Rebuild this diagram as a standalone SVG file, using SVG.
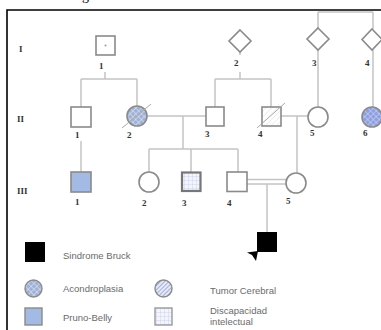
<svg xmlns="http://www.w3.org/2000/svg" width="381" height="330" viewBox="0 0 381 330">
<style>
.ln{stroke:#c4c4c4;stroke-width:1.5;fill:none}
.nd{stroke:#8a8a8a;stroke-width:1.6;fill:#fff}
.lb{font-family:"Liberation Serif",serif;font-weight:bold;font-size:9px;fill:#333}
.gen{font-family:"Liberation Serif",serif;font-weight:bold;font-size:9px;fill:#333}
.lg{font-family:"Liberation Sans",Arial,sans-serif;font-size:9.5px;fill:#6a6a6a}
</style>
<defs>
<pattern id="xh" width="4" height="4" patternUnits="userSpaceOnUse" patternTransform="rotate(45)">
<rect width="4" height="4" fill="#9fb0d6"/>
<path d="M0 0H4M0 0V4" stroke="#e8ecf6" stroke-width="1"/>
</pattern>
<pattern id="xh2" width="4" height="4" patternUnits="userSpaceOnUse" patternTransform="rotate(45)">
<rect width="4" height="4" fill="#8e9fe0"/>
<path d="M0 0H4M0 0V4" stroke="#d6dcf6" stroke-width="1"/>
</pattern>
<pattern id="st" width="3" height="3" patternUnits="userSpaceOnUse" patternTransform="rotate(45)">
<rect width="3" height="3" fill="#e6e9f6"/>
<path d="M0 0V3" stroke="#8d9ad0" stroke-width="1.5"/>
</pattern>
<pattern id="gr" width="4" height="4" patternUnits="userSpaceOnUse">
<rect width="4" height="4" fill="#f3f5fb"/>
<path d="M0 0H4M0 0V4" stroke="#c3cbe8" stroke-width="0.8"/>
</pattern>
<pattern id="hl" width="4" height="4" patternUnits="userSpaceOnUse" patternTransform="rotate(-45)">
<rect width="4" height="4" fill="#fff"/>
<path d="M0 0H4" stroke="#d8d8d8" stroke-width="0.8"/>
</pattern>
</defs>

<text x="82" y="0" font-family="Liberation Serif,serif" font-size="14" fill="#000">g</text>
<path d="M7 330V10H381" stroke="#000" stroke-width="1.6" fill="none"/>

<g id="generations">
<text class="gen" x="19" y="52">I</text>
<text class="gen" x="17" y="122">II</text>
<text class="gen" x="17" y="194">III</text>
</g>

<g id="connectors">
<path class="ln" d="M105 72V79M81 79H137M81 79V107M137 79V106"/>
<path class="ln" d="M240 52V55M240 72V79M215 79H271M215 79V107M271 79V107"/>
<path class="ln" d="M318 12H373M318 12V28M373 12V29M318 50V107M373 50V107"/>
<path class="ln" d="M147 116H206M183 116V149M149 149H238M149 149V172M191 149V172M238 149V172"/>
<path class="ln" d="M281 116H308M297 116V173"/>
<path class="ln" d="M81 141V172"/>
<path class="ln" d="M247 179.5H286M247 184H286M267 184V232"/>
</g>

<g id="I-1"><rect class="nd" x="96" y="36" width="19" height="19"/><circle cx="105.5" cy="45.5" r="1" fill="#999"/><text class="lb" x="99" y="69">1</text></g>
<g id="I-2"><path class="nd" d="M240 30L251 41L240 52L229 41Z"/><text class="lb" x="234" y="66">2</text></g>
<g id="I-3"><path class="nd" d="M318 28L329 39L318 50L307 39Z"/><text class="lb" x="312" y="66">3</text></g>
<g id="I-4"><path class="nd" d="M372 29L382 39.5L372 50L362 39.5Z"/><text class="lb" x="365" y="66">4</text></g>

<g id="II-1"><rect class="nd" x="71" y="107" width="20" height="20"/><text class="lb" x="75" y="138">1</text></g>
<g id="II-2"><circle class="nd" cx="137" cy="116" r="10" style="fill:url(#xh)"/><path d="M122 128L151 104" stroke="#aaa" stroke-width="1"/><text class="lb" x="127" y="138">2</text></g>
<g id="II-3"><rect class="nd" x="206" y="107" width="18" height="19"/><text class="lb" x="205" y="137">3</text></g>
<g id="II-4"><rect class="nd" x="262" y="107" width="19" height="19" style="fill:url(#hl)"/><path d="M257 128L285 103" stroke="#aaa" stroke-width="1"/><text class="lb" x="258" y="137">4</text></g>
<g id="II-5"><circle class="nd" cx="318" cy="117" r="10"/><text class="lb" x="310" y="136">5</text></g>
<g id="II-6"><circle class="nd" cx="372" cy="117" r="10" style="fill:url(#xh2)"/><text class="lb" x="363" y="136">6</text></g>

<g id="III-1"><rect class="nd" x="71" y="172" width="20" height="20" style="fill:#a3bbe4"/><text class="lb" x="75" y="205">1</text></g>
<g id="III-2"><circle class="nd" cx="149" cy="182" r="10"/><text class="lb" x="142" y="206">2</text></g>
<g id="III-3"><rect x="182" y="172.5" width="18.5" height="18.5" style="fill:url(#gr)" stroke="#777" stroke-width="2.2"/><text class="lb" x="182" y="206">3</text></g>
<g id="III-4"><rect class="nd" x="227" y="172" width="20" height="19.5"/><text class="lb" x="227" y="206">4</text></g>
<g id="III-5"><circle class="nd" cx="296" cy="183" r="10"/><text class="lb" x="286" y="204">5</text></g>

<g id="IV-1"><rect x="257" y="232" width="20" height="20" fill="#000"/><path d="M258 251L247 252.5L252 255L256 261Z" fill="#000"/></g>

<g id="legend">
<rect x="25" y="242" width="20" height="20" fill="#000"/>
<text class="lg" x="63" y="259">Sindrome Bruck</text>
<circle cx="33.5" cy="288.5" r="8.5" stroke="#8a8a8a" stroke-width="1.4" style="fill:url(#xh)"/>
<text class="lg" x="63" y="292">Acondroplasia</text>
<circle cx="163.5" cy="288.5" r="8.5" stroke="#8a8a8a" stroke-width="1.4" style="fill:url(#st)"/>
<text class="lg" x="210" y="294">Tumor Cerebral</text>
<rect x="25" y="308" width="17" height="17" stroke="#8a8a8a" stroke-width="1.4" fill="#a3bbe4"/>
<text class="lg" x="63" y="321">Pruno-Belly</text>
<rect x="155" y="308" width="17" height="17" stroke="#9a9a9a" stroke-width="1.4" style="fill:url(#gr)"/>
<text class="lg" x="210" y="314">Discapacidad</text>
<text class="lg" x="210" y="325">intelectual</text>
</g>
</svg>
